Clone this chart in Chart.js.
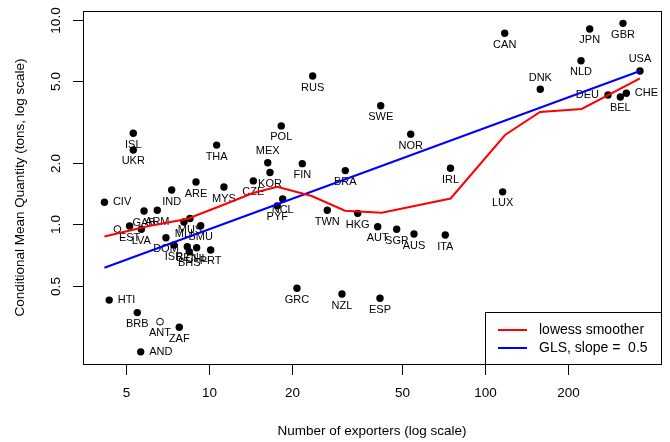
<!DOCTYPE html>
<html lang="en">
<head>
    <meta charset="UTF-8">
    <title>Exporters vs conditional mean quantity</title>
    <script src="https://cdn.jsdelivr.net/npm/chart.js"></script>
    <style>
        body { margin: 0; background: #ffffff; }
        canvas { display: block; }
    </style>
</head>
<body>
    <canvas id="exportChart" width="670" height="442"></canvas>
    <script>
        // country points (filled markers)
        const countries = ['CIV','HTI','ISL','UKR','THA','ARE','MYS','IND','CZE','MEX','KOR','POL','FIN','RUS','BRA',
            'SWE','NOR','IRL','NCL','PYF','TWN','HKG','AUT','SGP','AUS','ITA','GRC','NZL','ESP','LUX','CAN','DNK',
            'NLD','JPN','DEU','BEL','GBR','CHE','USA','GAB','ARM','EST','LVA','MUS','MLI','BMU','DOM','ISR','BEN',
            'BHS','CHL','PRT','BRB','ZAF','AND'];
        const exporters = [4.19,4.36,5.33,5.33,10.68,8.99,11.35,7.34,14.50,16.35,16.66,18.30,21.81,23.78,31.21,
            41.93,53.84,75.0,18.52,17.70,26.86,34.61,40.89,47.9,55.34,71.83,20.86,30.36,41.68,115.9,117.9,158.6,
            222.7,239.4,278.9,309.1,316.0,324.9,364.1,5.83,6.51,5.17,5.70,8.55,8.13,9.35,7.00,7.48,8.36,
            8.50,9.04,10.16,5.51,7.82,5.67];
        const quantity = [1.28,0.425,2.79,2.31,2.44,1.61,1.52,1.47,1.63,2.00,1.79,3.03,1.98,5.32,1.83,
            3.80,2.76,1.88,1.33,1.23,1.17,1.13,0.972,0.944,0.895,0.885,0.486,0.455,0.434,1.44,8.61,4.58,
            6.32,9.04,4.29,4.20,9.63,4.38,5.63,1.16,1.17,0.980,0.944,1.066,1.025,0.983,0.859,0.791,0.776,
            0.733,0.767,0.748,0.369,0.313,0.237];

        // open markers
        const openCountries = ['', 'ANT'];
        const openExporters = [4.67, 6.66];
        const openQuantity = [0.947, 0.333];

        // lowess smoother and GLS fit
        const lowessX = [4.19, 6.13, 8.34, 11.26, 14.46, 17.70, 23.59, 31.13, 42.28, 75.1, 118.2, 158.2, 224.0, 364.1];
        const lowessY = [0.871, 0.983, 1.060, 1.242, 1.421, 1.526, 1.374, 1.164, 1.139, 1.336, 2.734, 3.544, 3.666, 5.183];
        const glsX = [4.19, 364.1];
        const glsY = [0.612, 5.626];

        const xTicks = [5, 10, 20, 50, 100, 200];
        const yTicks = [0.5, 1, 2, 5, 10];
        const yTickLabels = ['0.5', '1.0', '2.0', '5.0', '10.0'];

        // labels not placed below their point
        const labelSide = { CIV: 'right', HTI: 'right', AND: 'right', CHE: 'right', DEU: 'left',
            MEX: 'above', USA: 'above', DNK: 'above' };

        const FONT = '"Liberation Sans", Arial, Helvetica, sans-serif';
        const toXY = (xs, ys) => xs.map((v, i) => ({ x: v, y: ys[i] }));

        // country codes next to the markers (drawn under the fitted lines)
        const pointLabels = {
            id: 'pointLabels',
            afterDatasetDraw(chart, args) {
                if (args.index !== 2) return;
                const ctx = chart.ctx;
                ctx.save();
                ctx.font = '11px ' + FONT;
                ctx.fillStyle = '#000';
                [2, 3].forEach(di => {
                    const ds = chart.data.datasets[di];
                    chart.getDatasetMeta(di).data.forEach((pt, i) => {
                        const name = ds.codes[i];
                        if (!name) return;
                        const side = labelSide[name] || 'below';
                        let x = pt.x, y = pt.y;
                        ctx.textBaseline = 'middle';
                        ctx.textAlign = 'center';
                        if (side === 'below') y += 11.5;
                        else if (side === 'above') y -= 11.5;
                        else if (side === 'right') { x += 8.5; ctx.textAlign = 'left'; }
                        else { x -= 9; ctx.textAlign = 'right'; }
                        ctx.fillText(name, x, y);
                    });
                });
                ctx.restore();
            }
        };

        // base-graphics style frame, axes and legend
        const frame = {
            id: 'frame',
            afterDraw(chart) {
                const { ctx, chartArea: a, scales: { x, y } } = chart;
                ctx.save();
                ctx.strokeStyle = '#000';
                ctx.fillStyle = '#000';
                ctx.lineWidth = 1;
                ctx.strokeRect(a.left + 0.5, a.top + 0.5, a.right - a.left, a.bottom - a.top);

                ctx.font = '13.5px ' + FONT;
                ctx.textAlign = 'center';
                ctx.textBaseline = 'middle';
                xTicks.forEach(v => {
                    const px = Math.round(x.getPixelForValue(v)) + 0.5;
                    ctx.beginPath();
                    ctx.moveTo(px, a.bottom + 0.5);
                    ctx.lineTo(px, a.bottom + 11);
                    ctx.stroke();
                    ctx.fillText(String(v), px, a.bottom + 29);
                });
                yTicks.forEach((v, i) => {
                    const py = Math.round(y.getPixelForValue(v)) + 0.5;
                    ctx.beginPath();
                    ctx.moveTo(a.left + 0.5, py);
                    ctx.lineTo(a.left - 10, py);
                    ctx.stroke();
                    ctx.save();
                    ctx.translate(a.left - 27, py);
                    ctx.rotate(-Math.PI / 2);
                    ctx.fillText(yTickLabels[i], 0, 0);
                    ctx.restore();
                });

                ctx.fillText('Number of exporters (log scale)', (a.left + a.right) / 2, a.bottom + 67);
                ctx.save();
                ctx.translate(a.left - 63, (a.top + a.bottom) / 2);
                ctx.rotate(-Math.PI / 2);
                ctx.fillText('Conditional Mean Quantity (tons, log scale)', 0, 0);
                ctx.restore();

                // legend in the bottom-right corner
                const lw = 176, lh = 52;
                const lx = a.right - lw, ly = a.bottom - lh;
                ctx.fillStyle = '#fff';
                ctx.fillRect(lx, ly, lw, lh);
                ctx.strokeRect(lx + 0.5, ly + 0.5, lw, lh);
                ctx.font = '14px ' + FONT;
                ctx.textAlign = 'left';
                [0, 1].forEach(di => {
                    const ds = chart.data.datasets[di];
                    const ry = ly + 18 + di * 18;
                    ctx.strokeStyle = ds.borderColor;
                    ctx.lineWidth = 2;
                    ctx.beginPath();
                    ctx.moveTo(lx + 13, ry);
                    ctx.lineTo(lx + 42, ry);
                    ctx.stroke();
                    ctx.fillStyle = '#000';
                    ctx.fillText(ds.label, lx + 54, ry);
                });
                ctx.restore();
            }
        };

        new Chart(document.getElementById('exportChart'), {
            type: 'scatter',
            data: {
                datasets: [
                    {
                        label: 'lowess smoother',
                        data: toXY(lowessX, lowessY),
                        showLine: true,
                        borderColor: '#ff0000',
                        borderWidth: 2,
                        pointRadius: 0,
                        tension: 0
                    },
                    {
                        label: 'GLS, slope =  0.5',
                        data: toXY(glsX, glsY),
                        showLine: true,
                        borderColor: '#0000ff',
                        borderWidth: 2,
                        pointRadius: 0,
                        tension: 0
                    },
                    {
                        label: 'open',
                        codes: openCountries,
                        data: toXY(openExporters, openQuantity),
                        pointRadius: 3.4,
                        pointBackgroundColor: '#ffffff',
                        pointBorderColor: '#000000',
                        pointBorderWidth: 1
                    },
                    {
                        label: 'countries',
                        codes: countries,
                        data: toXY(exporters, quantity),
                        pointRadius: 3.7,
                        pointBackgroundColor: '#000000',
                        pointBorderColor: '#000000',
                        pointBorderWidth: 0
                    }
                ]
            },
            options: {
                responsive: false,
                animation: false,
                events: [],
                layout: { padding: { left: 83, top: 11, right: 9, bottom: 78 } },
                scales: {
                    x: { type: 'logarithmic', min: 3.505, max: 433.8, display: false },
                    y: { type: 'logarithmic', min: 0.2067, max: 11.07, display: false }
                },
                plugins: {
                    legend: { display: false },
                    tooltip: { enabled: false }
                }
            },
            plugins: [pointLabels, frame]
        });
    </script>
</body>
</html>
